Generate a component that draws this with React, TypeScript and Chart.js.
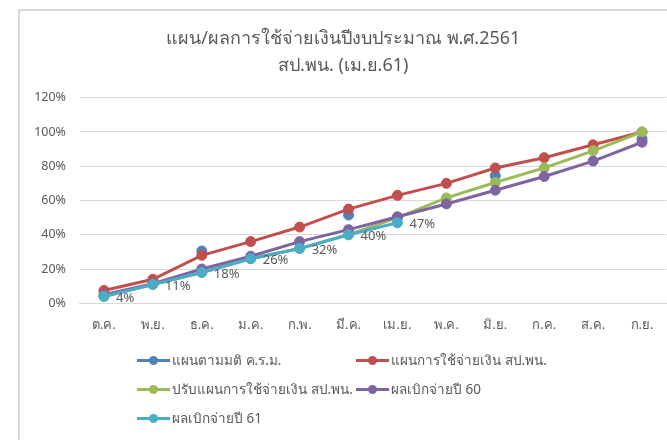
import React, { useEffect, useRef } from "react";
import { Chart, registerables } from "chart.js";

Chart.register(...registerables);

const titleLines = ["แผน/ผลการใช้จ่ายเงินปีงบประมาณ พ.ศ.2561", "สป.พน. (เม.ย.61)"];
const months = ["ต.ค.", "พ.ย.", "ธ.ค.", "ม.ค.", "ก.พ.", "มี.ค.", "เม.ย.", "พ.ค.", "มิ.ย.", "ก.ค.", "ส.ค.", "ก.ย."];
const yTicks = [0, 20, 40, 60, 80, 100, 120];

const planCabinet = [null, null, 30.5, null, null, 51.5, null, null, 74.5, null, null, 96];
const planSpending = [7.5, 14, 28, 36, 44.5, 55, 63, 70, 79, 85, 92.5, 100];
const revisedPlan = [4, 11, 18, 26, 32, 40, 50, 61.5, 70.5, 79, 89, 100];
const actual60 = [5, 11.5, 20, 27.5, 36, 43, 50.5, 58, 66, 74, 83, 94];
const actual61 = [4, 11, 18, 26, 32, 40, 47, null, null, null, null, null];

const seriesNames = [
  "แผนตามมติ ค.ร.ม.",
  "แผนการใช้จ่ายเงิน สป.พน.",
  "ปรับแผนการใช้จ่ายเงิน สป.พน.",
  "ผลเบิกจ่ายปี 60",
  "ผลเบิกจ่ายปี 61",
];
const seriesColors = ["#4F81BD", "#C0504D", "#9BBB59", "#8064A2", "#4BACC6"];
const seriesData = [planCabinet, planSpending, revisedPlan, actual60, actual61];

const FONT = '"Noto Sans", sans-serif';
const TEXT = "#595959";

const legendLayout = [
  { left: 137, top: 360 },
  { left: 356, top: 360 },
  { left: 137, top: 389 },
  { left: 356, top: 389 },
  { left: 137, top: 418 },
];

export default function App() {
  const ref = useRef<HTMLCanvasElement | null>(null);

  useEffect(() => {
    if (!ref.current) return;
    const labelPlugin = {
      id: "actualLabels",
      afterDatasetsDraw(chart: any) {
        const meta = chart.getDatasetMeta(4);
        const ctx = chart.ctx;
        ctx.save();
        ctx.font = `13px ${FONT}`;
        ctx.fillStyle = TEXT;
        ctx.textAlign = "left";
        ctx.textBaseline = "middle";
        meta.data.forEach((pt: any, i: number) => {
          const v = actual61[i];
          if (v == null) return;
          ctx.fillText(`${v}%`, pt.x + 12, pt.y + 2);
        });
        ctx.restore();
      },
    };

    const chart = new Chart(ref.current, {
      type: "line",
      data: {
        labels: months,
        datasets: seriesData.map((d, i) => ({
          label: seriesNames[i],
          data: d,
          borderColor: seriesColors[i],
          backgroundColor: seriesColors[i],
          pointBackgroundColor: seriesColors[i],
          pointBorderColor: seriesColors[i],
          borderWidth: 3,
          pointRadius: 5,
          pointBorderWidth: 1,
          tension: 0,
          spanGaps: false,
          order: 5 - i,
        })),
      },
      options: {
        responsive: false,
        animation: false,
        devicePixelRatio: 1,
        layout: { padding: { left: 0, right: 15.5, top: 0, bottom: 96.7 } },
        plugins: {
          legend: { display: false },
          tooltip: { enabled: false },
          title: {
            display: true,
            text: titleLines,
            color: TEXT,
            font: { family: FONT, size: 18, weight: "normal", lineHeight: 27 / 18 },
            padding: { top: 14, bottom: 18.7 },
          },
        },
        scales: {
          x: {
            offset: true,
            grid: { display: false, drawTicks: false },
            border: { display: true, color: "#D9D9D9", width: 1 },
            ticks: { color: TEXT, font: { family: FONT, size: 13 }, padding: 14, maxRotation: 0, autoSkip: false },
            afterFit: (s: any) => {
              s.height = 40;
            },
          },
          y: {
            min: 0,
            max: 120,
            afterBuildTicks: (s: any) => {
              s.ticks = yTicks.map((v) => ({ value: v }));
            },
            grid: { color: "#D9D9D9", lineWidth: 1, drawTicks: false },
            border: { display: false },
            ticks: {
              color: TEXT,
              font: { family: FONT, size: 12.5 },
              padding: 13.5,
              callback: (v: any) => `${v}%`,
            },
            afterFit: (s: any) => {
              s.width = 59.5;
            },
          },
        },
      },
      plugins: [labelPlugin],
    });
    return () => chart.destroy();
  }, []);

  return (
    <div style={{ position: "fixed", left: 0, top: 0, width: 667, height: 440, overflow: "hidden", background: "#fff" }}>
      <div
        style={{
          position: "absolute",
          left: 18,
          top: 9,
          width: 664,
          height: 440,
          borderLeft: "2px solid #D9D9D9",
          borderTop: "2px solid #D9D9D9",
          boxSizing: "border-box",
        }}
      >
        <canvas ref={ref} width={662} height={429} style={{ display: "block", width: 662, height: 429 }} />
      </div>
      {seriesNames.map((name, i) => (
        <div
          key={name}
          style={{
            position: "absolute",
            left: legendLayout[i].left,
            top: legendLayout[i].top - 10,
            height: 20,
            display: "flex",
            alignItems: "center",
            whiteSpace: "nowrap",
            fontFamily: FONT,
            fontSize: 13.5,
            color: TEXT,
          }}
        >
          <span style={{ position: "relative", display: "inline-block", width: 33, height: 20, marginRight: 2 }}>
            <span style={{ position: "absolute", left: 0, right: 0, top: 8.5, height: 3, background: seriesColors[i] }} />
            <span
              style={{
                position: "absolute",
                left: 12,
                top: 5.5,
                width: 9,
                height: 9,
                borderRadius: "50%",
                background: seriesColors[i],
              }}
            />
          </span>
          <span>{name}</span>
        </div>
      ))}
    </div>
  );
}
